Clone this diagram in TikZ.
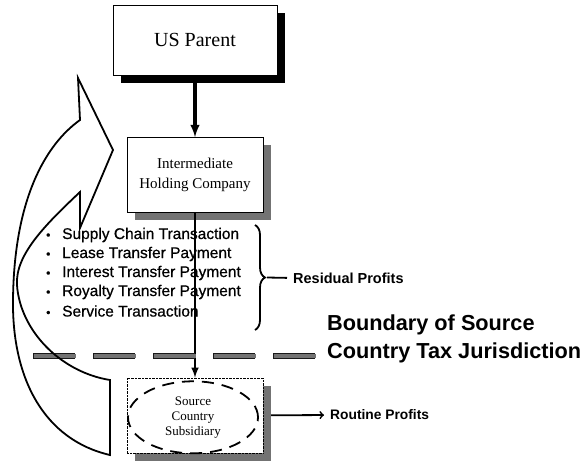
\documentclass[tikz,border=0pt]{standalone}
\usepackage{fontspec}
\setmainfont{Liberation Serif}
\setsansfont{Liberation Sans}
\newfontfamily\heavysans[FakeBold=0.6]{Liberation Sans}
\usetikzlibrary{positioning}
\usetikzlibrary{shadows}
\usetikzlibrary{shapes.geometric}
\usetikzlibrary{decorations.pathreplacing}

\begin{document}
\begin{tikzpicture}[x=1pt, y=-1pt, style={align=center},
	entity/.style={draw, thin, fill=white, minimum width=136pt, minimum height=75pt, drop shadow={shadow xshift=8pt, shadow yshift=-8pt, fill=black!55, opacity=1}},
	topentity/.style={draw, thin, fill=white, minimum width=164pt, minimum height=70pt, drop shadow={shadow xshift=8pt, shadow yshift=-8pt, fill=black, opacity=1}},
	listtext/.style={anchor=west, inner sep=0pt, font=\heavysans\fontsize{15.5}{19}\selectfont},
	profit/.style={anchor=west, inner sep=0pt, font=\sffamily\bfseries\fontsize{14.5}{16}\selectfont}]
	\useasboundingbox (0,0) rectangle (586,461);
	\node[topentity, font=\fontsize{20}{24}\selectfont] (parent) at (195,40) {US Parent};
	\node[entity, below=62pt of parent, font=\fontsize{15}{20}\selectfont] (hold) {Intermediate\\Holding Company};
	\node[entity, densely dotted, below=165pt of hold] (src) {};
	\node[ellipse, draw, line width=1.8pt, dash pattern=on 12pt off 8pt, minimum width=130pt, minimum height=72pt, font=\fontsize{13}{15}\selectfont] (srcoval) at ([xshift=-2pt, yshift=-2pt]src.center) {Source\\Country\\Subsidiary};
	\foreach \txt [count=\i] in {Supply Chain Transaction, Lease Transfer Payment, Interest Transfer Payment, Royalty Transfer Payment, Service Transaction}
		\node[listtext] (item\i) at (46,{235+19*(\i-1)}) {\makebox[16pt][l]{\fontsize{12}{12}\selectfont\textbullet}\txt};
	\node[profit] (residual) at (293,278) {Residual Profits};
	\node[profit, font=\sffamily\bfseries\fontsize{13.8}{16}\selectfont] (routine) at (330,415) {Routine Profits};
	\node[anchor=west, align=left, inner sep=0pt, font=\sffamily\bfseries\fontsize{21.7}{28}\selectfont] (boundary) at (327,339) {Boundary of Source\\Country Tax Jurisdiction};
	\draw[-latex, line width=3.2pt] (parent) -- (hold);
	\draw[-latex, line width=2.4pt] (hold) -- (src);
	\draw[-to, line width=1.8pt, shorten >=6pt] ([xshift=8pt]src.east) -- (routine.west);
	\coordinate (braceTop) at (255,225);
	\coordinate (braceBot) at (255,330);
	\coordinate (braceTip) at (267,277.5);
	\draw[decoration={brace, amplitude=10pt}, decorate, line width=1.8pt] (braceTop) -- (braceBot);
	\draw[line width=1.8pt, shorten >=6pt] (braceTip) -- (residual.west);
	\draw[line width=6.5pt, black!90, dash pattern=on 42pt off 18pt] (33,356) -- (318,356);
	\draw[line width=3.5pt, black!55, dash pattern=on 42pt off 18pt] (34,356) -- (317,356);
	\draw[line width=1.8pt, line join=miter] (110,455) .. controls (45,440) and (12,380) .. (13,300) .. controls (14,200) and (45,145) .. (80,120) -- (78,78) -- (113,150) -- (80,228) -- (80,192) .. controls (45,225) and (15,255) .. (17,285) .. controls (20,330) and (60,372) .. (110,380) -- cycle;
\end{tikzpicture}
\end{document}
